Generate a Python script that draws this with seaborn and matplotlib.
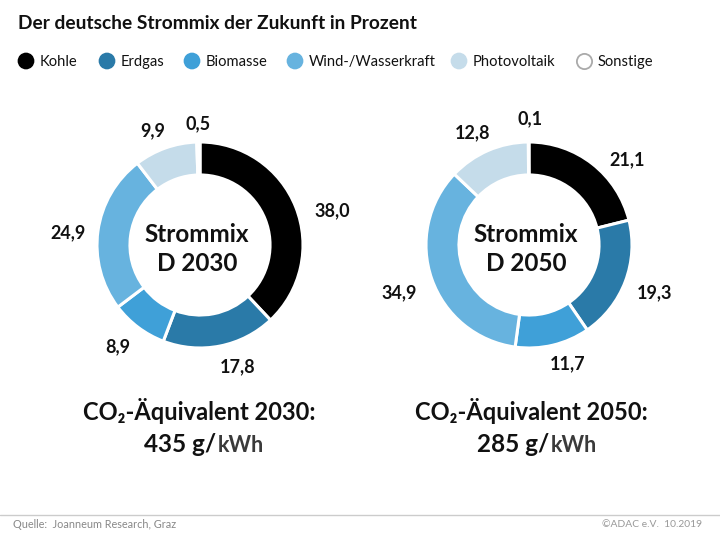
import matplotlib
matplotlib.use('Agg')
import matplotlib.pyplot as plt
import pandas as pd
import seaborn as sns

# Data
sources = ['Kohle', 'Erdgas', 'Biomasse', 'Wind-/Wasserkraft', 'Photovoltaik', 'Sonstige']
values_2030 = [38.0, 17.8, 8.9, 24.9, 9.9, 0.5]
values_2050 = [21.1, 19.3, 11.7, 34.9, 12.8, 0.1]
colors = ['#000000', '#2a7aa8', '#3fa0d8', '#67b3df', '#c5dcea', '#ffffff']

W, H = 720, 540
FONT = 'Lato'

sns.set_theme(style='white')
plt.rcParams['font.family'] = [FONT, 'DejaVu Sans']

fig = plt.figure(figsize=(W / 100, H / 100), dpi=100)

# Overlay axes in pixel coordinates, only for text and legend
bg = fig.add_axes([0, 0, 1, 1])
bg.set_xlim(0, W)
bg.set_ylim(H, 0)
bg.axis('off')


def label(x, y, s, size=11, weight='bold', color='#111111', ha='center', va='baseline'):
    bg.text(x, y, s, fontsize=size, fontweight=weight, color=color, ha=ha, va=va)


# Function for one donut
def draw_donut(cx, cy, values, label_pos, title):
    r = 103
    ax = fig.add_axes([(cx - r) / W, 1 - (cy + r) / H, 2 * r / W, 2 * r / H])
    ax.pie(values, colors=colors, startangle=90, counterclock=False, radius=1,
           wedgeprops={'width': 0.32, 'edgecolor': 'white', 'linewidth': 2.2})
    ax.set_xlim(-1, 1)
    ax.set_ylim(-1, 1)
    ax.patch.set_visible(False)
    for v, (x, y) in zip(values, label_pos):
        label(x, y, f'{v:.1f}'.replace('.', ','), size=13, va='center_baseline')
    label(cx - 3, cy - 3, title[0], size=17.5)
    label(cx - 3, cy + 26, title[1], size=17.5)


# Title
label(18, 29, 'Der deutsche Strommix der Zukunft in Prozent', size=13.8, ha='left')

# Legend
legend_x = [26, 107, 192, 295, 459, 584]
text_x = [40, 121, 206, 309, 473, 598]
df_legend = pd.DataFrame({'source': sources, 'x': legend_x, 'y': [61] * 6})
sns.scatterplot(data=df_legend, x='x', y='y', hue='source', palette=dict(zip(sources, colors)),
                s=145, linewidth=0, legend=False, ax=bg, clip_on=False)
bg.scatter([legend_x[-1]], [61], s=120, facecolor='white', edgecolor='#aaaaaa', linewidth=1.3)
bg.set_xlim(0, W)
bg.set_ylim(H, 0)
bg.axis('off')
for x, s in zip(text_x, sources):
    label(x, 66, s, size=10.6, weight='normal', ha='left')

# Donuts
draw_donut(200, 245, values_2030,
           [(332, 209), (238, 365), (118, 345), (68, 231), (153, 129), (198, 122)],
           ('Strommix', 'D 2030'))
draw_donut(529, 245, values_2050,
           [(627, 158), (655, 291), (568, 362), (399, 291), (473, 131), (530, 117)],
           ('Strommix', 'D 2050'))

# CO2 lines
label(199.5, 420, 'CO₂-Äquivalent 2030:', size=17)
label(531.5, 420, 'CO₂-Äquivalent 2050:', size=17)
label(216, 452, '435 g/', size=17.5, ha='right')
label(218, 452, 'kWh', size=15.5, color='#3a3a3a', ha='left')
label(549, 452, '285 g/', size=17.5, ha='right')
label(551, 452, 'kWh', size=15.5, color='#3a3a3a', ha='left')

# Footer
bg.plot([0, W], [514.5, 514.5], color='#cccccc', lw=1)
label(13, 528, 'Quelle:  Joanneum Research, Graz', size=7.8, weight='normal', color='#888888', ha='left')
label(702, 527, '©ADAC e.V.  10.2019', size=7.4, weight='normal', color='#999999', ha='right')

fig.savefig('out.png', dpi=100)
